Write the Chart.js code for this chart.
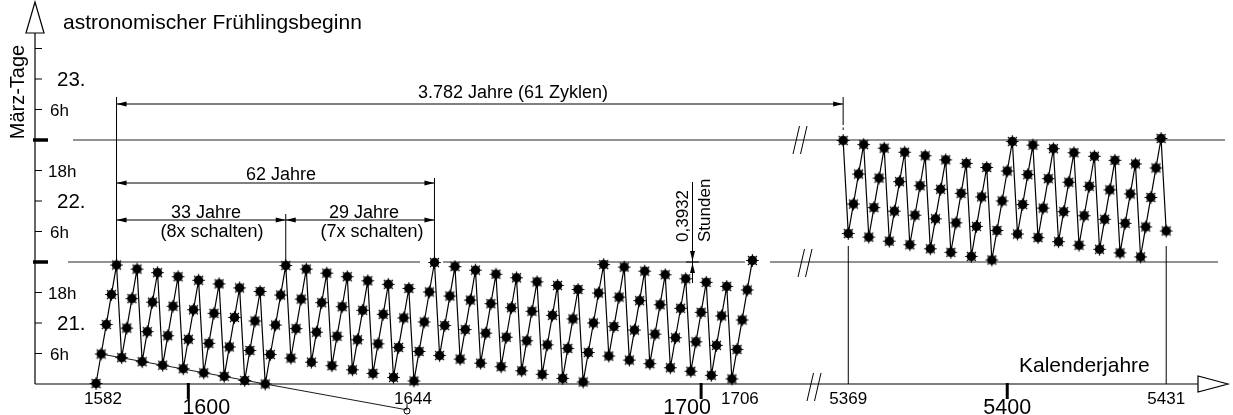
<!DOCTYPE html>
<html>
<head>
<meta charset="utf-8">
<script src="https://cdn.jsdelivr.net/npm/chart.js@4/dist/chart.umd.min.js"></script>
<style>
  body { margin: 0; background: #fff; }
  canvas { display: block; }
</style>
</head>
<body>
<canvas id="chart" width="1233" height="415"></canvas>
<script>
// Spring equinox, hours after 21 March 0h, one value per calendar year
var firstYearEarly = 1582;
var hoursEarly = [
  0.1,
  5.9, 11.7, 17.6, 23.4,  5.2, 11.0, 16.8, 22.6,  4.4, 10.3, 16.1, 21.9,
  3.7, 9.5, 15.3, 21.1,   3.0, 8.8, 14.6, 20.4,   2.2, 8.0, 13.9, 19.7,
  1.5, 7.3, 13.1, 18.9,   0.7, 6.6, 12.4, 18.2,   0.0, 5.8, 11.6, 17.5, 23.3,
  5.1, 10.9, 16.7, 22.6,  4.3, 10.2, 16.0, 21.8,  3.6, 9.4, 15.2, 21.1,
  2.8, 8.7, 14.5, 20.3,   2.1, 7.9, 13.7, 19.6,   1.3, 7.2, 13.0, 18.8,
  0.6, 6.4, 12.2, 18.1, 23.9,
  5.6, 11.5, 17.3, 23.1,  4.9, 10.7, 16.5, 22.4,  4.1, 10.0, 15.8, 21.6,
  3.4, 9.2, 15.0, 20.9,   2.6, 8.5, 14.3, 20.1,   1.9, 7.7, 13.5, 19.4,
  1.1, 7.0, 12.8, 18.6,   0.4, 6.2, 12.0, 17.9, 23.5,
  5.5, 11.3, 17.1, 23.0,  4.7, 10.6, 16.4, 22.2,  4.0, 9.8, 15.6, 21.5,
  3.2, 9.1, 14.9, 20.7,   2.5, 8.3, 14.1, 20.0,   1.7, 7.6, 13.4, 19.2,
  1.0, 6.8, 12.6, 18.5, 24.3
];
var firstYearLate = 5368;
var hoursLate = [
  47.9,
  29.6, 35.4, 41.3, 47.1,  28.9, 34.7, 40.5, 46.4,  28.1, 34.0, 39.8, 45.6,
  27.4, 33.2, 39.0, 44.9,  26.6, 32.5, 38.3, 44.1,  25.9, 31.7, 37.5, 43.4,
  25.1, 31.0, 36.8, 42.6,  24.4, 30.2, 36.0, 41.9, 47.7,
  29.5, 35.3, 41.2, 47.0,  28.8, 34.6, 40.4, 46.3,  28.0, 33.9, 39.7, 45.5,
  27.3, 33.1, 38.9, 44.8,  26.5, 32.4, 38.2, 44.0,  25.8, 31.6, 37.4, 43.3,
  25.0, 30.9, 36.7, 42.5, 48.3,
  30.1
];
// drift of the yearly low points, continued below the axis
var trendYears = [1583, 1642.7];
var trendHours = [5.9, -5.1];

var hourTicks = [6, 12, 18, 30, 36, 42, 54, 60, 66];
var hourTickLabels = ['6h', '21.', '18h', '6h', '22.', '18h', '6h', '23.', ''];
var dayLines = [24, 48];
var yearTicks = [1600, 1700, 5400];
var yearLabels = [1582, 1644, 1706, 5369, 5431];

var SHIFT = 3640.3; // axis break: the 54th century is folded next to the 18th
var FONT = '"Liberation Sans", Arial, sans-serif';

function toPoints(first, hours) {
  return hours.map(function (h, i) {
    var yr = first + i;
    return { x: yr > 3000 ? yr - SHIFT : yr, y: h };
  });
}

function makeDot() {
  // round blob with a few short spikes, like the plotted markers
  var c = document.createElement('canvas'), g, a;
  c.width = 15; c.height = 15;
  g = c.getContext('2d');
  g.fillStyle = '#000'; g.strokeStyle = '#000'; g.lineWidth = 1.2;
  g.beginPath(); g.arc(7.5, 7.5, 4.7, 0, Math.PI * 2); g.fill();
  g.beginPath();
  for (a = 0; a < 8; a += 1) {
    g.moveTo(7.5 + 4 * Math.cos(a * Math.PI / 4), 7.5 + 4 * Math.sin(a * Math.PI / 4));
    g.lineTo(7.5 + 6.3 * Math.cos(a * Math.PI / 4), 7.5 + 6.3 * Math.sin(a * Math.PI / 4));
  }
  g.stroke();
  return c;
}

var drawing = {
  id: 'drawing',
  beforeDatasetsDraw: function (chart) {
    var ctx = chart.ctx, xs = chart.scales.x, ys = chart.scales.y;
    var left = xs.left, bottom = ys.bottom;
    function X(yr) { return xs.getPixelForValue(yr > 3000 ? yr - SHIFT : yr); }
    function Y(h) { return ys.getPixelForValue(h); }
    function line(x1, y1, x2, y2) { ctx.beginPath(); ctx.moveTo(x1, y1); ctx.lineTo(x2, y2); ctx.stroke(); }
    function head(x, y, dx, dy) { // filled arrow head, tip at x,y
      ctx.beginPath(); ctx.moveTo(x, y);
      ctx.lineTo(x - dx * 10 - dy * 2.5, y - dy * 10 - dx * 2.5);
      ctx.lineTo(x - dx * 10 + dy * 2.5, y - dy * 10 + dx * 2.5);
      ctx.closePath(); ctx.fill();
    }
    function slashes(cx, cy) {
      [cx - 7, cx + 0.5].forEach(function (x0) { line(x0, cy + 14, x0 + 6.5, cy - 14); });
    }
    function text(t, x, y, size, align) {
      ctx.font = size + 'px ' + FONT; ctx.textAlign = align || 'left'; ctx.fillText(t, x, y);
    }

    ctx.save();
    ctx.fillStyle = '#000';
    ctx.strokeStyle = '#000';

    // reference lines at 22 and 23 March 0h
    ctx.strokeStyle = '#6e6e6e';
    ctx.lineWidth = 1.6;
    line(73, Y(dayLines[1]), 1225, Y(dayLines[1]));
    [[68, 420], [443, 745], [770, 1218]].forEach(function (s) { line(s[0], Y(dayLines[0]), s[1], Y(dayLines[0])); });

    ctx.strokeStyle = '#000';
    ctx.lineWidth = 1;
    slashes(800, Y(dayLines[1]));
    slashes(805, Y(dayLines[0]) + 1);
    slashes(814, bottom + 3);

    // axes with open arrows
    ctx.lineWidth = 1.2;
    line(left, bottom, left, 33);
    line(left, bottom, 1198, bottom);
    ctx.fillStyle = '#fff';
    ctx.beginPath(); ctx.moveTo(left, 2); ctx.lineTo(left + 9, 33); ctx.lineTo(left - 9, 33); ctx.closePath(); ctx.fill(); ctx.stroke();
    ctx.beginPath(); ctx.moveTo(1228, bottom); ctx.lineTo(1198, bottom - 8); ctx.lineTo(1198, bottom + 8); ctx.closePath(); ctx.fill(); ctx.stroke();
    ctx.fillStyle = '#000';

    // y ticks
    ctx.lineWidth = 1;
    hourTicks.forEach(function (h, i) {
      var lab = hourTickLabels[i], big = lab.indexOf('.') > 0;
      line(left, Y(h), left + 7, Y(h));
      if (lab) {
        text(lab, big ? 57 : (lab.length > 2 ? 48 : 50), Y(h) + (big ? 7.3 : 6), big ? 20.5 : 17);
      }
    });
    ctx.lineWidth = 3.5;
    dayLines.forEach(function (h) { line(left - 2, Y(h), left + 13, Y(h)); });

    // x ticks
    ctx.lineWidth = 3;
    var bigOffsets = { 1600: 18, 1700: -14, 5400: 0 };
    yearTicks.forEach(function (yr) {
      line(X(yr), bottom - 1, X(yr), bottom + 15);
      text(String(yr), X(yr) + bigOffsets[yr], 414, 21.5, 'center');
    });
    var smallOffsets = { 1582: 7, 1644: -1, 1706: 8, 5369: 0, 5431: 0 };
    yearLabels.forEach(function (yr) {
      text(String(yr), X(yr) + smallOffsets[yr], 404, 17, 'center');
    });

    // dimension lines
    ctx.lineWidth = 1;
    var x1586 = X(1586), x1619 = X(1619), x1648 = X(1648);
    var x5368 = X(5368), x5369 = X(5369), x5431 = X(5431);
    line(x1586, 97, x1586, Y(24));
    line(x1619, 214, x1619, Y(24));
    line(x1648, 178, x1648, Y(24));
    line(x5368, 97, x5368, 125);
    line(x5368, 127.5, x5368, 130);
    line(x5369, 246, x5369, bottom);
    line(x5431, 246, x5431, bottom);

    line(x1586, 104, x5368, 104); head(x1586, 104, -1, 0); head(x5368, 104, 1, 0);
    line(x1586, 183, x1648, 183); head(x1586, 183, -1, 0); head(x1648, 183, 1, 0);
    line(x1586, 220, x1648, 220);
    head(x1586, 220, -1, 0); head(x1619, 220, 1, 0); head(x1619, 220, -1, 0); head(x1648, 220, 1, 0);

    text('3.782 Jahre (61 Zyklen)', 513, 98, 18, 'center');
    text('62 Jahre', 281, 180, 18, 'center');
    text('33 Jahre', 206, 218, 18, 'center');
    text('(8x schalten)', 212, 237, 18, 'center');
    text('29 Jahre', 364, 218, 18, 'center');
    text('(7x schalten)', 372, 237, 18, 'center');

    // 0,3932 h step marker
    line(692.5, 182, 692.5, 283);
    line(686, Y(24), 699, Y(24));
    head(692.5, Y(24) - 1, 0, 1);
    head(692.5, Y(24) + 1, 0, -1);

    // trend end marker
    ctx.beginPath(); ctx.arc(407, 411, 3, 0, Math.PI * 2); ctx.stroke();
    line(407, 404, 407, 409);

    // titles
    text('astronomischer Frühlingsbeginn', 63, 29, 21);
    text('Kalenderjahre', 1019, 372, 21);

    ctx.save();
    ctx.translate(24, 92); ctx.rotate(-Math.PI / 2);
    text('März-Tage', 0, 0, 20, 'center');
    ctx.restore();
    ctx.save();
    ctx.translate(687.5, 242); ctx.rotate(-Math.PI / 2);
    text('0,3932', 0, 0, 17);
    ctx.restore();
    ctx.save();
    ctx.translate(710, 242); ctx.rotate(-Math.PI / 2);
    text('Stunden', 0, 0, 17);
    ctx.restore();

    ctx.restore();
  }
};

var dot = makeDot();
var seriesStyle = {
  borderColor: '#000', borderWidth: 1.2, pointStyle: dot, pointRadius: 5,
  tension: 0, clip: false, showLine: true
};

new Chart(document.getElementById('chart'), {
  type: 'scatter',
  data: {
    datasets: [
      Object.assign({ label: '1582-1710', data: toPoints(firstYearEarly, hoursEarly) }, seriesStyle),
      Object.assign({ label: '5368-5431', data: toPoints(firstYearLate, hoursLate) }, seriesStyle),
      {
        label: 'trend',
        data: trendYears.map(function (yr, i) { return { x: yr, y: trendHours[i] }; }),
        borderColor: '#000', borderWidth: 0.9, pointRadius: 0, showLine: true, clip: false
      }
    ]
  },
  options: {
    responsive: false,
    animation: false,
    layout: { padding: { left: 35, right: 35, top: 18, bottom: 31 } },
    plugins: { legend: { display: false }, tooltip: { enabled: false } },
    scales: {
      x: { type: 'linear', min: 1570.1, max: 1796.9, display: false },
      y: { type: 'linear', min: 0, max: 72, display: false }
    }
  },
  plugins: [drawing]
});
</script>
</body>
</html>
